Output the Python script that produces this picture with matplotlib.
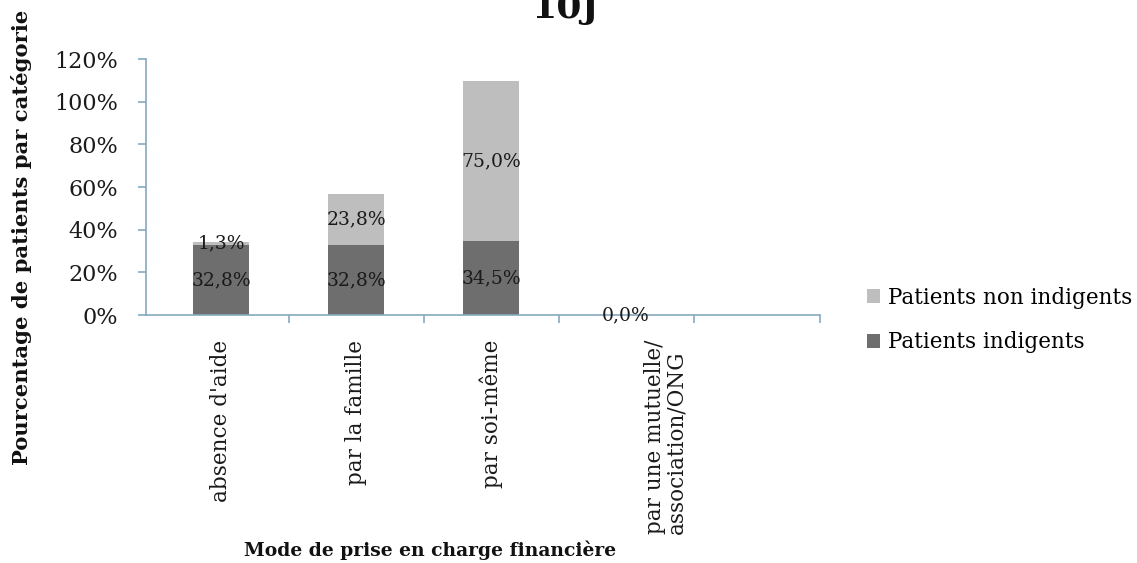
import matplotlib
matplotlib.use("Agg")
import matplotlib.pyplot as plt
import matplotlib.transforms as mtransforms
from matplotlib.ticker import FuncFormatter

categories = ["absence d'aide", "par la famille", "par soi-même",
              "par une mutuelle/\nassociation/ONG"]
indigents = [32.8, 32.8, 34.5, 0.0]
non_indigents = [1.3, 23.8, 75.0, 0.0]
yticks = [0, 20, 40, 60, 80, 100, 120]

title = "10J"
ylabel = "Pourcentage de patients par catégorie"
xlabel = "Mode de prise en charge financière"
series_names = ["Patients indigents", "Patients non indigents"]

DARK = "#6e6e6e"
LIGHT = "#bebebe"
AXC = "#86a9bf"
FONT = "DejaVu Serif"

plt.rcParams['font.family'] = [FONT]

fig = plt.figure(figsize=(11.37, 5.63), dpi=100)
ax = fig.add_axes([146/1137, 1-315/563, 674/1137, 256/563])

x = list(range(len(categories)))
w = 0.41
b1 = ax.bar(x, indigents, width=w, color=DARK, label=series_names[0], zorder=2)
b2 = ax.bar(x, non_indigents, width=w, bottom=indigents, color=LIGHT,
            label=series_names[1], zorder=2)

fmt = lambda v: f"{v:.1f}%".replace('.', ',')
lab1 = [fmt(v) if (v > 0 or n > 0) else '' for v, n in zip(indigents, non_indigents)]
lab2 = [fmt(v) for v in non_indigents]
ax.bar_label(b1, labels=lab1, label_type='center', fontsize=13.5, color='#1a1a1a', zorder=3)
ax.bar_label(b2, labels=lab2, label_type='center', fontsize=13.5, color='#1a1a1a', zorder=3)

xmax = 4.437
ax.set_xlim(-0.556, xmax)
ax.set_ylim(0, 120)
ax.set_yticks(yticks)
ax.yaxis.set_major_formatter(FuncFormatter(lambda v, p: f"{int(v)}%"))

ax.set_xticks(x)
ax.set_xticklabels(categories, rotation=90, va='top', ha='center',
                   multialignment='left', fontsize=15.5, linespacing=0.95)
ax.tick_params(axis='x', which='major', length=0, pad=18)
ax.set_xticks([0.5, 1.5, 2.5, 3.5, xmax], minor=True)
ax.tick_params(axis='x', which='minor', length=6, color=AXC, width=1.2, direction='out')
ax.tick_params(axis='y', length=6, color=AXC, width=1.2, labelsize=16,
               labelcolor='#1a1a1a', pad=14)
for lab in ax.get_xticklabels():
    lab.set_color('#1a1a1a')
last = ax.get_xticklabels()[-1]
last.set_transform(last.get_transform() +
                   mtransforms.ScaledTranslation(0.4, 0, fig.dpi_scale_trans))

for s in ['top', 'right']:
    ax.spines[s].set_visible(False)
for s in ['left', 'bottom']:
    ax.spines[s].set_color(AXC)
    ax.spines[s].set_linewidth(1.2)

ax.set_ylabel(ylabel, fontsize=15.2, fontweight='bold', color='#111111')
ax.yaxis.set_label_coords(-114/674, (315-237)/256)
fig.text(430/1137, 1-550/563, xlabel, fontsize=13.5, fontweight='bold',
         ha='center', va='center', color='#111111')
fig.text(565/1137, 1-18/563, title, fontsize=26, fontweight='bold',
         ha='center', va='baseline', color='#111111')

handles, labels = ax.get_legend_handles_labels()
leg = fig.legend(handles[::-1], labels[::-1], loc='center left',
                 bbox_to_anchor=(848/1137, 1-320/563), frameon=False,
                 fontsize=15.5, handlelength=0.6, handleheight=0.6,
                 handletextpad=0.35, labelspacing=1.05)

fig.savefig("out.png", dpi=100)
